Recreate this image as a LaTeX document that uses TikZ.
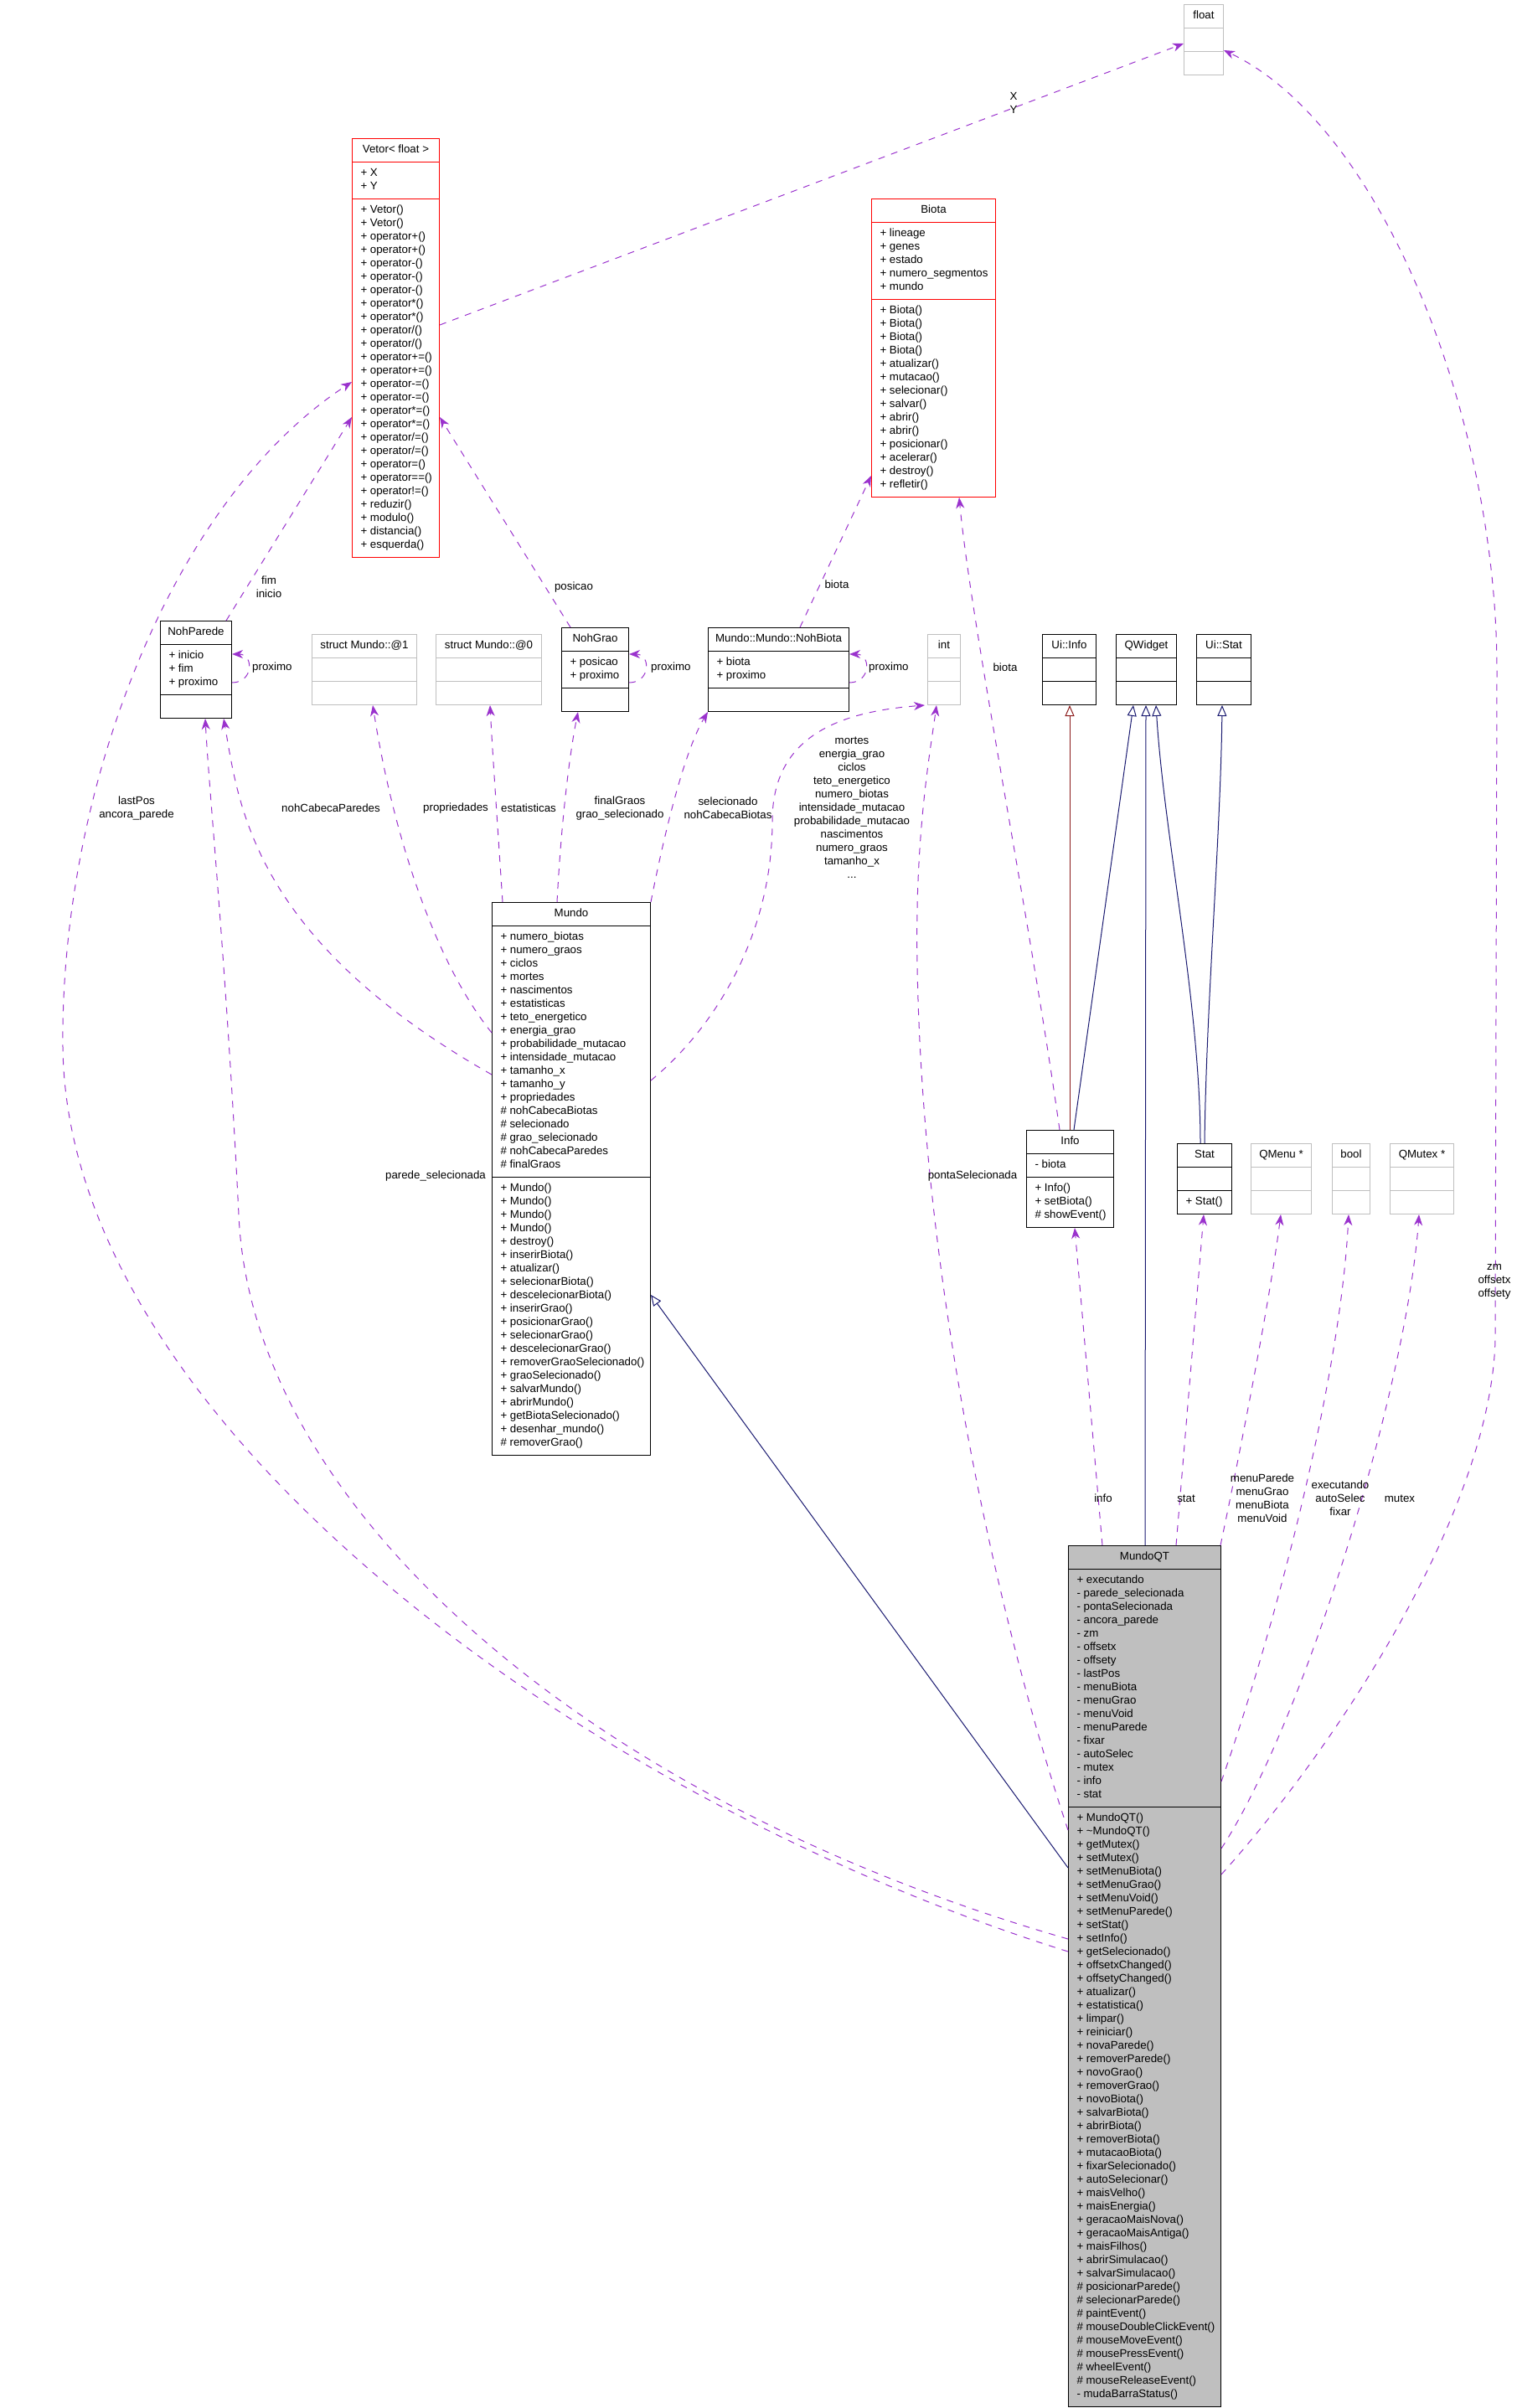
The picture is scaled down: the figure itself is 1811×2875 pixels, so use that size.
\documentclass[tikz,border=0pt]{standalone}
\usepackage{fontspec}
\setmainfont{Liberation Sans}
\usetikzlibrary{shapes.multipart,arrows.meta}

\definecolor{edgeuse}{HTML}{9A32CD}
\definecolor{edgeinh}{HTML}{191970}
\definecolor{edgepriv}{HTML}{8B1A1A}
\definecolor{boxgray}{HTML}{BFBFBF}

% class box parts: width in px, text
\newcommand{\boxtitle}[2]{\makebox[\dimexpr#1pt-20pt\relax][c]{\strut#2}}
\newcommand{\boxrows}[2]{\makebox[\dimexpr#1pt-20pt\relax][l]{\begin{tabular}{@{}l@{}}#2\end{tabular}}}

\tikzset{
  cls/.style={rectangle split, rectangle split parts=3, draw=black, line width=1pt,
    anchor=north west, inner xsep=10pt, inner ysep=5.5pt,
    rectangle split empty part height=11.2pt, rectangle split empty part depth=4.8pt,
    font=\fontsize{13.3}{16}\selectfont},
  redcls/.style={cls, draw=red},
  graycls/.style={cls, draw=boxgray},
  use/.style={draw=edgeuse, line width=1pt, dash pattern=on 8pt off 8pt,
    -{Stealth[length=13pt,width=10pt,inset=4pt]}},
  inh/.style={draw=edgeinh, line width=1pt, -{Triangle[open,length=13pt,width=11pt]}},
  priv/.style={draw=edgepriv, line width=1pt, -{Triangle[open,length=13pt,width=11pt]}},
  lbl/.style={font=\fontsize{13.3}{16}\selectfont, align=center, inner sep=0pt},
}

\begin{document}
\begin{tikzpicture}[x=1pt,y=-1pt]
  \useasboundingbox (0,0) rectangle (1811,2875);

  % classes
  \node[graycls] (flt) at (1413,5) {\boxtitle{47}{float}\nodepart{two}\nodepart{three}};
  \node[redcls] (vetor) at (420,165) {\boxtitle{104}{Vetor< float >}%
    \nodepart{two}\boxrows{104}{+ X\\+ Y}%
    \nodepart{three}\boxrows{104}{+ Vetor()\\+ Vetor()\\+ operator+()\\+ operator+()\\+ operator-()\\+ operator-()\\+ operator-()\\+ operator*()\\+ operator*()\\+ operator/()\\+ operator/()\\+ operator+=()\\+ operator+=()\\+ operator-=()\\+ operator-=()\\+ operator*=()\\+ operator*=()\\+ operator/=()\\+ operator/=()\\+ operator=()\\+ operator==()\\+ operator!=()\\+ reduzir()\\+ modulo()\\+ distancia()\\+ esquerda()}};
  \node[redcls] (biota) at (1040,237) {\boxtitle{148}{Biota}%
    \nodepart{two}\boxrows{148}{+ lineage\\+ genes\\+ estado\\+ numero\_segmentos\\+ mundo}%
    \nodepart{three}\boxrows{148}{+ Biota()\\+ Biota()\\+ Biota()\\+ Biota()\\+ atualizar()\\+ mutacao()\\+ selecionar()\\+ salvar()\\+ abrir()\\+ abrir()\\+ posicionar()\\+ acelerar()\\+ destroy()\\+ refletir()}};
  \node[cls] (nohparede) at (191,741) {\boxtitle{85}{NohParede}%
    \nodepart{two}\boxrows{85}{+ inicio\\+ fim\\+ proximo}\nodepart{three}};
  \node[graycls] (structB) at (372,757) {\boxtitle{125}{struct Mundo::@1}\nodepart{two}\nodepart{three}};
  \node[graycls] (structA) at (520,757) {\boxtitle{126}{struct Mundo::@0}\nodepart{two}\nodepart{three}};
  \node[cls] (nohgrao) at (670,749) {\boxtitle{80}{NohGrao}%
    \nodepart{two}\boxrows{80}{+ posicao\\+ proximo}\nodepart{three}};
  \node[cls] (nohbiota) at (845,749) {\boxtitle{168}{Mundo::Mundo::NohBiota}%
    \nodepart{two}\boxrows{168}{+ biota\\+ proximo}\nodepart{three}};
  \node[graycls] (intT) at (1107,757) {\boxtitle{39}{int}\nodepart{two}\nodepart{three}};
  \node[cls] (uiinfo) at (1244,757) {\boxtitle{64}{Ui::Info}\nodepart{two}\nodepart{three}};
  \node[cls] (qwidget) at (1332,757) {\boxtitle{72}{QWidget}\nodepart{two}\nodepart{three}};
  \node[cls] (uistat) at (1428,757) {\boxtitle{65}{Ui::Stat}\nodepart{two}\nodepart{three}};
  \node[cls] (mundo) at (587,1077) {\boxtitle{189}{Mundo}%
    \nodepart{two}\boxrows{189}{+ numero\_biotas\\+ numero\_graos\\+ ciclos\\+ mortes\\+ nascimentos\\+ estatisticas\\+ teto\_energetico\\+ energia\_grao\\+ probabilidade\_mutacao\\+ intensidade\_mutacao\\+ tamanho\_x\\+ tamanho\_y\\+ propriedades\\\# nohCabecaBiotas\\\# selecionado\\\# grao\_selecionado\\\# nohCabecaParedes\\\# finalGraos}%
    \nodepart{three}\boxrows{189}{+ Mundo()\\+ Mundo()\\+ Mundo()\\+ Mundo()\\+ destroy()\\+ inserirBiota()\\+ atualizar()\\+ selecionarBiota()\\+ descelecionarBiota()\\+ inserirGrao()\\+ posicionarGrao()\\+ selecionarGrao()\\+ descelecionarGrao()\\+ removerGraoSelecionado()\\+ graoSelecionado()\\+ salvarMundo()\\+ abrirMundo()\\+ getBiotaSelecionado()\\+ desenhar\_mundo()\\\# removerGrao()}};
  \node[cls] (info) at (1225,1349) {\boxtitle{104}{Info}%
    \nodepart{two}\boxrows{104}{- biota}%
    \nodepart{three}\boxrows{104}{+ Info()\\+ setBiota()\\\# showEvent()}};
  \node[cls] (stat) at (1405,1365) {\boxtitle{65}{Stat}\nodepart{two}%
    \nodepart{three}\boxrows{65}{+ Stat()}};
  \node[graycls] (qmenu) at (1493,1365) {\boxtitle{72}{QMenu *}\nodepart{two}\nodepart{three}};
  \node[graycls] (boolT) at (1590,1365) {\boxtitle{45}{bool}\nodepart{two}\nodepart{three}};
  \node[graycls] (qmutex) at (1659,1365) {\boxtitle{76}{QMutex *}\nodepart{two}\nodepart{three}};
  \node[cls, fill=boxgray] (mundoqt) at (1275,1845) {\boxtitle{182}{MundoQT}%
    \nodepart{two}\boxrows{182}{+ executando\\- parede\_selecionada\\- pontaSelecionada\\- ancora\_parede\\- zm\\- offsetx\\- offsety\\- lastPos\\- menuBiota\\- menuGrao\\- menuVoid\\- menuParede\\- fixar\\- autoSelec\\- mutex\\- info\\- stat}%
    \nodepart{three}\boxrows{182}{+ MundoQT()\\+ \textasciitilde MundoQT()\\+ getMutex()\\+ setMutex()\\+ setMenuBiota()\\+ setMenuGrao()\\+ setMenuVoid()\\+ setMenuParede()\\+ setStat()\\+ setInfo()\\+ getSelecionado()\\+ offsetxChanged()\\+ offsetyChanged()\\+ atualizar()\\+ estatistica()\\+ limpar()\\+ reiniciar()\\+ novaParede()\\+ removerParede()\\+ novoGrao()\\+ removerGrao()\\+ novoBiota()\\+ salvarBiota()\\+ abrirBiota()\\+ removerBiota()\\+ mutacaoBiota()\\+ fixarSelecionado()\\+ autoSelecionar()\\+ maisVelho()\\+ maisEnergia()\\+ geracaoMaisNova()\\+ geracaoMaisAntiga()\\+ maisFilhos()\\+ abrirSimulacao()\\+ salvarSimulacao()\\\# posicionarParede()\\\# selecionarParede()\\\# paintEvent()\\\# mouseDoubleClickEvent()\\\# mouseMoveEvent()\\\# mousePressEvent()\\\# wheelEvent()\\\# mouseReleaseEvent()\\- mudaBarraStatus()}};

  % inheritance
  \draw[priv] ([xshift=52pt]info.north west) -- ([xshift=33pt]uiinfo.south west);
  \draw[inh] ([xshift=57pt]info.north west) -- ([xshift=21pt]qwidget.south west);
  \draw[inh] ([xshift=92pt]mundoqt.north west) -- ([xshift=36pt]qwidget.south west);
  \draw[inh] ([xshift=28pt]stat.north west) .. controls (1433,1200) and (1390,1000) .. ([xshift=48pt]qwidget.south west);
  \draw[inh] ([xshift=33pt]stat.north west) .. controls (1440,1200) and (1457,1000) .. ([xshift=31pt]uistat.south west);
  \draw[inh] ([shift={(0,385)}]mundoqt.north west) -- ([shift={(0,469)}]mundo.north east);

  % usage
  \draw[use] ([shift={(0,223)}]vetor.north east) -- ([shift={(0,47)}]flt.north west);
  \draw[use] ([shift={(0,393)}]mundoqt.north east) .. controls (1600,2080) and (1780,1800) .. (1785,1600)
    -- (1787,800) .. controls (1787,500) and (1650,150) .. ([shift={(0,55)}]flt.north east);
  \draw[use] ([xshift=79pt]nohparede.north west) -- ([shift={(0,333)}]vetor.north west);
  \draw[use] ([xshift=11pt]nohgrao.north west) -- ([shift={(0,333)}]vetor.north east);
  \draw[use] ([shift={(0,485)}]mundoqt.north west) .. controls (700,2150) and (80,1700) .. (75,1250)
    .. controls (72,950) and (200,600) .. ([shift={(0,291)}]vetor.north west);
  \draw[use] ([shift={(0,470)}]mundoqt.north west) .. controls (700,2150) and (300,1800) .. (285,1450)
    .. controls (270,1150) and (250,950) .. ([xshift=54pt]nohparede.south west);
  \draw[use] ([shift={(0,206)}]mundo.north west) .. controls (300,1120) and (285,960) .. ([xshift=76pt]nohparede.south west);
  \draw[use] ([shift={(0,156)}]mundo.north west) .. controls (520,1150) and (470,1000) .. ([xshift=73pt]structB.south west);
  \draw[use] ([xshift=13pt]mundo.north west) .. controls (595,1000) and (588,900) .. ([xshift=65pt]structA.south west);
  \draw[use] ([xshift=78pt]mundo.north west) .. controls (670,980) and (680,900) .. ([xshift=20pt]nohgrao.south west);
  \draw[use] (mundo.north east) .. controls (790,1010) and (815,900) .. (nohbiota.south west);
  \draw[use] ([shift={(0,213)}]mundo.north east) .. controls (850,1230) and (922,1120) .. (922,980)
    .. controls (922,880) and (1000,850) .. ([xshift=-3pt]intT.south west);
  \draw[use] ([shift={(0,340)}]mundoqt.north west) .. controls (1180,1900) and (1100,1500) .. (1095,1150)
    .. controls (1092,1000) and (1110,900) .. ([xshift=11pt]intT.south west);
  \draw[use] ([xshift=110pt]nohbiota.north west) -- ([shift={(0,331)}]biota.north west);
  \draw[use] ([xshift=40pt]info.north west) .. controls (1230,1100) and (1160,750) .. ([xshift=105pt]biota.south west);
  \draw[use] ([xshift=41pt]mundoqt.north west) -- ([xshift=58pt]info.south west);
  \draw[use] ([xshift=129pt]mundoqt.north west) -- ([xshift=32pt]stat.south west);
  \draw[use] ([xshift=-1pt]mundoqt.north east) .. controls (1475,1760) and (1515,1560) .. ([xshift=36pt]qmenu.south west);
  \draw[use] ([shift={(0,282)}]mundoqt.north east) .. controls (1520,1950) and (1600,1650) .. ([xshift=20pt]boolT.south west);
  \draw[use] ([shift={(0,362)}]mundoqt.north east) .. controls (1560,2050) and (1680,1650) .. ([xshift=35pt]qmutex.south west);

  % self references
  \draw[use] ([shift={(0,74)}]nohparede.north east) .. controls +(26,0) and +(26,0) .. ([shift={(0,40)}]nohparede.north east);
  \draw[use] ([shift={(0,66)}]nohgrao.north east) .. controls +(26,0) and +(26,0) .. ([shift={(0,32)}]nohgrao.north east);
  \draw[use] ([shift={(0,66)}]nohbiota.north east) .. controls +(26,0) and +(26,0) .. ([shift={(0,32)}]nohbiota.north east);

  % edge labels
  \node[lbl] (lxy) at (1210,123) {X\\Y};
  \node[lbl] (lzm) at (1784,1530) {zm\\offsetx\\offsety};
  \node[lbl] (lfim) at (321,701) {fim\\inicio};
  \node[lbl] (lpos) at (685,701) {posicao};
  \node[lbl] (lbnb) at (999,698) {biota};
  \node[lbl] (lbinfo) at (1200,797) {biota};
  \node[lbl, anchor=west] (lpx1) at (301,797) {proximo};
  \node[lbl, anchor=west] (lpx2) at (777,797) {proximo};
  \node[lbl, anchor=west] (lpx3) at (1037,797) {proximo};
  \node[lbl] (llast) at (163,965) {lastPos\\ancora\_parede};
  \node[lbl] (lcab) at (395,965) {nohCabecaParedes};
  \node[lbl] (lprop) at (544,965) {propriedades};
  \node[lbl] (lest) at (631,965) {estatisticas};
  \node[lbl] (lfin) at (740,965) {finalGraos\\grao\_selecionado};
  \node[lbl] (lsel) at (869,965) {selecionado\\nohCabecaBiotas};
  \node[lbl] (lint) at (1017,964) {mortes\\energia\_grao\\ciclos\\teto\_energetico\\numero\_biotas\\intensidade\_mutacao\\probabilidade\_mutacao\\nascimentos\\numero\_graos\\tamanho\_x\\...};
  \node[lbl] (lpar) at (520,1404) {parede\_selecionada};
  \node[lbl] (lponta) at (1161,1404) {pontaSelecionada};
  \node[lbl] (linfo) at (1317,1789) {info};
  \node[lbl] (lstat) at (1416,1789) {stat};
  \node[lbl] (lmenu) at (1507,1789) {menuParede\\menuGrao\\menuBiota\\menuVoid};
  \node[lbl] (lbool) at (1600,1789) {executando\\autoSelec\\fixar};
  \node[lbl] (lmutex) at (1671,1789) {mutex};
\end{tikzpicture}
\end{document}
